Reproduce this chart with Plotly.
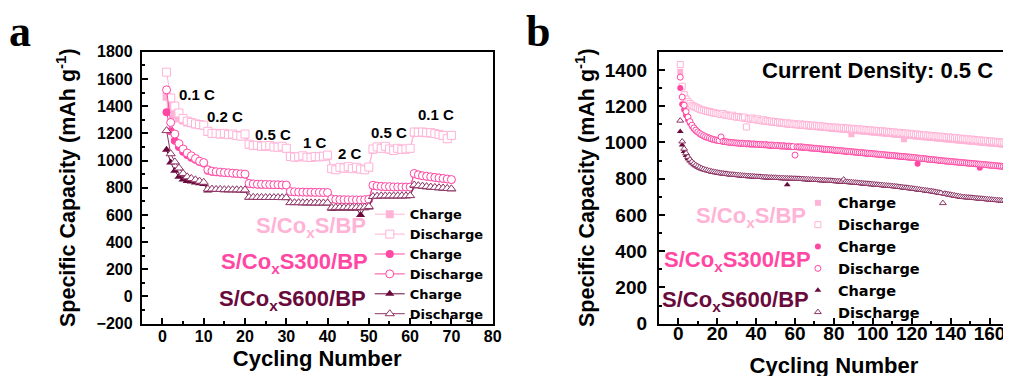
import plotly.graph_objects as go

# ---------------- data: panel a (rate capability) ----------------
cycles_a = list(range(1, 71))
rate_labels = ["0.1 C", "0.2 C", "0.5 C", "1 C", "2 C", "0.5 C", "0.1 C"]
rate_label_x = [8.4, 15.1, 26.9, 37.0, 45.4, 54.9, 66.2]
rate_label_y = [1487, 1324, 1192, 1129, 1052, 1206, 1338]

cs_charge_a = [1470, 1400, 1335, 1310, 1295, 1280, 1275, 1265, 1260, 1255,
               1210, 1198, 1196, 1192, 1195, 1188, 1190, 1182, 1178, 1190,
               1115, 1108, 1108, 1102, 1104, 1105, 1098, 1095, 1100, 1088,
               1028, 1022, 1025, 1030, 1022, 1020, 1026, 1025, 1028, 1035,
               938, 930, 945, 940, 950, 938, 945, 935, 930, 948,
               1080, 1095, 1088, 1100, 1082, 1072, 1086, 1080, 1082, 1086,
               1205, 1204, 1206, 1200, 1200, 1195, 1188, 1180, 1158, 1180]
cs_discharge_a = [1650, 1460, 1400, 1350, 1310, 1290, 1280, 1270, 1265, 1260,
                  1215, 1200, 1200, 1195, 1200, 1190, 1195, 1185, 1180, 1195,
                  1120, 1110, 1112, 1105, 1108, 1110, 1100, 1098, 1105, 1090,
                  1030, 1025, 1028, 1035, 1025, 1022, 1030, 1028, 1032, 1040,
                  940, 932, 950, 945, 955, 940, 950, 938, 932, 952,
                  1085, 1100, 1090, 1105, 1085, 1075, 1090, 1082, 1085, 1090,
                  1210, 1208, 1210, 1205, 1205, 1198, 1192, 1185, 1160, 1185]
s300_charge_a = [1355, 1215, 1145, 1100, 1065, 1040, 1020, 1005, 990, 978,
                 925, 918, 914, 912, 910, 908, 905, 903, 900, 898,
                 828, 825, 823, 822, 822, 821, 820, 820, 818, 818,
                 770, 768, 766, 766, 765, 765, 764, 764, 763, 763,
                 715, 712, 710, 710, 709, 709, 708, 708, 710, 712,
                 815, 810, 808, 806, 806, 804, 804, 803, 803, 803,
                 900, 892, 886, 882, 878, 874, 870, 866, 862, 858]
s300_discharge_a = [1520, 1280, 1195, 1125, 1085, 1055, 1035, 1015, 995, 985,
                    932, 922, 918, 915, 912, 910, 907, 905, 902, 900,
                    832, 828, 826, 825, 824, 823, 822, 822, 820, 820,
                    772, 770, 768, 768, 767, 767, 766, 766, 765, 765,
                    718, 714, 712, 712, 711, 711, 710, 710, 712, 715,
                    818, 812, 810, 808, 808, 806, 806, 805, 805, 805,
                    905, 895, 888, 884, 880, 876, 872, 868, 864, 860]
s600_charge_a = [1080, 985, 925, 880, 860, 850, 845, 838, 832, 828,
                 780, 785, 783, 783, 782, 782, 781, 781, 780, 780,
                 727, 727, 726, 726, 725, 725, 725, 725, 724, 724,
                 687, 687, 687, 686, 686, 686, 685, 685, 685, 685,
                 645, 647, 647, 647, 647, 647, 647, 600, 649, 655,
                 732, 735, 737, 737, 737, 737, 737, 737, 737, 739,
                 815, 811, 808, 804, 801, 798, 796, 794, 791, 789]
s600_discharge_a = [1220, 1050, 990, 945, 905, 880, 868, 858, 848, 840,
                    790, 790, 788, 788, 786, 786, 785, 785, 784, 784,
                    730, 730, 729, 729, 728, 728, 728, 728, 727, 727,
                    690, 690, 690, 689, 689, 689, 688, 688, 688, 688,
                    652, 655, 655, 655, 655, 655, 655, 655, 657, 662,
                    735, 738, 740, 740, 740, 740, 740, 740, 740, 742,
                    820, 815, 812, 808, 805, 802, 800, 798, 795, 792]

# ---------------- data: panel b (long cycling at 0.5 C) ----------------
cycles_b = list(range(1, 171))
cs_discharge_b = [1430, 1310, 1265, 1240, 1225, 1215, 1205, 1200, 1195, 1190,
                  1185, 1180, 1178, 1175, 1172, 1170, 1168, 1165, 1163, 1160,
                  1158, 1155, 1160, 1150, 1152, 1148, 1145, 1150, 1142, 1140,
                  1143, 1138, 1135, 1140, 1085, 1132, 1130, 1135, 1128, 1125,
                  1130, 1122, 1120, 1125, 1118, 1120, 1115, 1118, 1112, 1115,
                  1110, 1113, 1108, 1110, 1105, 1108, 1103, 1106, 1100, 1103,
                  1100, 1098, 1102, 1096, 1100, 1094, 1098, 1092, 1096, 1090,
                  1094, 1090, 1092, 1088, 1090, 1085, 1088, 1083, 1086, 1082,
                  1085, 1080, 1083, 1078, 1082, 1076, 1080, 1075, 1078, 1073,
                  1076, 1072, 1075, 1070, 1073, 1068, 1071, 1066, 1069, 1065,
                  1067, 1063, 1066, 1061, 1064, 1059, 1062, 1057, 1060, 1055,
                  1058, 1053, 1056, 1051, 1054, 1049, 1052, 1047, 1050, 1045,
                  1048, 1043, 1046, 1041, 1044, 1039, 1042, 1037, 1040, 1035,
                  1038, 1033, 1036, 1031, 1034, 1029, 1032, 1027, 1030, 1025,
                  1028, 1023, 1026, 1021, 1024, 1019, 1022, 1017, 1020, 1015,
                  1018, 1013, 1016, 1011, 1014, 1009, 1012, 1007, 1010, 1005,
                  1008, 1003, 1006, 1001, 1004, 999, 1002, 997, 1000, 995]
cs_charge_b = [1390, 1305, 1255, 1232, 1218, 1208, 1200, 1194, 1190, 1185,
               1180, 1176, 1173, 1170, 1168, 1165, 1163, 1160, 1158, 1157,
               1155, 1153, 1152, 1149, 1148, 1146, 1144, 1143, 1140, 1138,
               1137, 1135, 1133, 1131, 1130, 1128, 1127, 1125, 1124, 1122,
               1121, 1119, 1117, 1116, 1114, 1113, 1111, 1110, 1108, 1107,
               1105, 1104, 1103, 1101, 1100, 1099, 1098, 1097, 1096, 1095,
               1094, 1093, 1092, 1091, 1090, 1089, 1088, 1087, 1086, 1085,
               1084, 1083, 1082, 1081, 1080, 1079, 1078, 1077, 1076, 1075,
               1074, 1073, 1072, 1071, 1070, 1069, 1068, 1067, 1045, 1065,
               1064, 1063, 1062, 1061, 1060, 1059, 1058, 1057, 1056, 1055,
               1054, 1053, 1052, 1051, 1050, 1049, 1048, 1047, 1046, 1045,
               1044, 1043, 1042, 1041, 1040, 1018, 1038, 1037, 1036, 1035,
               1034, 1033, 1032, 1031, 1030, 1029, 1028, 1027, 1026, 1025,
               1024, 1023, 1022, 1021, 1020, 1019, 1018, 1017, 1016, 1015,
               1014, 1013, 1012, 1011, 1010, 1009, 1008, 1007, 1006, 1005,
               1004, 1003, 1002, 1001, 1000, 999, 998, 997, 996, 995,
               994, 993, 992, 991, 990, 989, 988, 987, 986, 985]
s300_discharge_b = [1360, 1250, 1205, 1170, 1140, 1115, 1095, 1080, 1068, 1058,
                    1050, 1043, 1037, 1032, 1028, 1024, 1020, 1017, 1014, 1012,
                    1010, 1030, 1006, 1004, 1003, 1001, 1000, 999, 998, 997,
                    996, 995, 996, 994, 993, 994, 992, 991, 992, 990,
                    989, 990, 988, 987, 988, 986, 985, 986, 984, 983,
                    984, 982, 981, 982, 980, 979, 980, 978, 977, 930,
                    976, 975, 976, 974, 973, 972, 971, 970, 969, 968,
                    967, 966, 965, 964, 963, 962, 961, 960, 959, 958,
                    957, 956, 955, 954, 953, 952, 951, 950, 949, 948,
                    947, 946, 945, 944, 943, 942, 941, 940, 939, 938,
                    937, 936, 935, 934, 933, 932, 931, 930, 929, 928,
                    927, 926, 925, 924, 923, 922, 921, 920, 919, 918,
                    917, 916, 914, 913, 912, 911, 910, 908, 907, 906,
                    905, 904, 903, 901, 900, 899, 898, 897, 896, 895,
                    894, 893, 892, 891, 890, 889, 888, 887, 886, 885,
                    884, 883, 882, 881, 880, 879, 878, 877, 876, 875,
                    874, 873, 872, 871, 870, 869, 868, 867, 866, 865]
s300_charge_b = [1300, 1210, 1180, 1150, 1125, 1105, 1088, 1074, 1063, 1054,
                 1046, 1040, 1034, 1029, 1025, 1021, 1018, 1015, 1012, 1010,
                 1008, 1006, 1004, 1002, 1001, 999, 998, 997, 996, 995,
                 994, 993, 992, 991, 990, 990, 989, 988, 988, 987,
                 986, 986, 985, 984, 984, 983, 982, 982, 981, 980,
                 980, 979, 978, 978, 977, 976, 976, 975, 974, 974,
                 973, 972, 972, 971, 970, 969, 968, 967, 966, 965,
                 964, 963, 962, 961, 960, 959, 958, 957, 956, 955,
                 954, 953, 952, 951, 950, 949, 948, 947, 946, 945,
                 944, 943, 942, 941, 940, 939, 938, 937, 936, 935,
                 934, 933, 932, 931, 930, 929, 928, 927, 926, 925,
                 924, 923, 922, 921, 920, 919, 918, 917, 916, 915,
                 914, 913, 882, 911, 910, 909, 908, 906, 905, 904,
                 903, 902, 901, 899, 898, 897, 896, 895, 894, 893,
                 892, 891, 890, 889, 888, 887, 886, 885, 884, 883,
                 882, 881, 880, 879, 860, 877, 876, 875, 874, 873,
                 872, 871, 870, 869, 868, 867, 866, 865, 864, 863]
s600_discharge_b = [1120, 1005, 965, 940, 920, 905, 893, 883, 875, 868,
                    862, 857, 853, 849, 846, 843, 840, 838, 836, 834,
                    832, 830, 829, 827, 826, 824, 823, 822, 821, 820,
                    819, 818, 817, 816, 815, 814, 814, 813, 812, 811,
                    810, 810, 809, 808, 808, 807, 806, 806, 805, 805,
                    804, 804, 803, 803, 802, 802, 801, 801, 800, 800,
                    799, 799, 798, 798, 797, 797, 796, 795, 795, 794,
                    793, 793, 792, 791, 791, 790, 789, 789, 788, 787,
                    786, 786, 785, 784, 795, 783, 782, 781, 780, 779,
                    778, 777, 776, 775, 774, 773, 772, 771, 770, 769,
                    768, 767, 766, 765, 764, 763, 762, 761, 760, 759,
                    758, 757, 755, 754, 753, 751, 750, 749, 747, 746,
                    744, 743, 741, 740, 738, 737, 735, 734, 732, 731,
                    729, 727, 725, 723, 721, 665, 717, 715, 713, 711,
                    709, 707, 705, 703, 701, 699, 698, 697, 696, 695,
                    694, 693, 692, 691, 690, 689, 688, 687, 686, 685,
                    684, 683, 682, 681, 680, 679, 678, 677, 676, 675]
s600_charge_b = [1060, 985, 950, 928, 910, 897, 886, 877, 870, 863,
                 858, 853, 849, 846, 843, 840, 837, 835, 833, 831,
                 829, 827, 826, 824, 823, 821, 820, 819, 818, 817,
                 816, 815, 814, 813, 812, 811, 811, 810, 809, 808,
                 807, 807, 806, 805, 805, 804, 803, 803, 802, 802,
                 801, 801, 800, 800, 799, 767, 798, 798, 797, 797,
                 796, 796, 795, 795, 794, 794, 793, 792, 792, 791,
                 790, 790, 789, 788, 788, 787, 786, 786, 785, 784,
                 783, 783, 782, 781, 780, 780, 779, 778, 777, 776,
                 775, 774, 773, 772, 771, 770, 769, 768, 767, 766,
                 765, 764, 763, 762, 761, 760, 759, 758, 757, 756,
                 755, 754, 752, 751, 750, 748, 747, 746, 744, 743,
                 741, 740, 738, 737, 735, 734, 732, 731, 729, 728,
                 726, 724, 722, 720, 718, 716, 714, 712, 710, 708,
                 706, 704, 702, 700, 698, 697, 696, 695, 694, 693,
                 692, 691, 690, 689, 688, 687, 686, 685, 684, 683,
                 682, 681, 680, 679, 678, 677, 676, 675, 674, 673]

sample_names = ["S/Co<sub>x</sub>S/BP", "S/Co<sub>x</sub>S300/BP", "S/Co<sub>x</sub>S600/BP"]
colors = ["#FFB3D6", "#FF47A3", "#6A0A3C"]
open_line_colors = ["#FFB3D6", "#FF47A3", "#8E3566"]
symbols = ["square", "circle", "triangle-up"]

FONT = "Liberation Sans, Arial, sans-serif"
LEG_FONT = "DejaVu Sans, Liberation Sans, sans-serif"
W, H = 1011, 376


def px_x(p):
    return p / W


def px_y(p):
    return 1 - p / H


fig = go.Figure()

series_a = [(cs_charge_a, cs_discharge_a), (s300_charge_a, s300_discharge_a), (s600_charge_a, s600_discharge_a)]
series_b = [(cs_charge_b, cs_discharge_b), (s300_charge_b, s300_discharge_b), (s600_charge_b, s600_discharge_b)]

for i, (ch, dis) in enumerate(series_a):
    fig.add_trace(go.Scatter(
        x=cycles_a, y=ch, mode="lines+markers", name="Charge",
        line=dict(color=colors[i], width=1),
        marker=dict(symbol=symbols[i], size=8, color=colors[i], line=dict(width=0)),
        xaxis="x", yaxis="y", legend="legend"))
    fig.add_trace(go.Scatter(
        x=cycles_a, y=dis, mode="lines+markers", name="Discharge",
        line=dict(color=open_line_colors[i], width=1),
        marker=dict(symbol=symbols[i], size=8, color="white",
                    line=dict(width=1, color=open_line_colors[i])),
        xaxis="x", yaxis="y", legend="legend"))

for i, (ch, dis) in enumerate(series_b):
    fig.add_trace(go.Scatter(
        x=cycles_b, y=ch, mode="markers", name="Charge",
        marker=dict(symbol=symbols[i], size=6, color=colors[i], line=dict(width=0)),
        xaxis="x2", yaxis="y2", legend="legend2"))
    fig.add_trace(go.Scatter(
        x=cycles_b, y=dis, mode="markers", name="Discharge",
        marker=dict(symbol=symbols[i], size=6, color="white",
                    line=dict(width=1, color=open_line_colors[i])),
        xaxis="x2", yaxis="y2", legend="legend2"))

ydom = [px_y(324), px_y(37.7)]

axis_common = dict(showline=True, linewidth=2, linecolor="black", mirror=True,
                   showgrid=False, zeroline=False, ticks="inside", tickcolor="black",
                   tickwidth=1.5, ticklen=6)

xtitle_font = dict(family=FONT, size=22, color="black", weight="bold")
ytitle_font = dict(family=FONT, size=21.5, color="black", weight="bold")

fig.update_layout(
    width=W, height=H, margin=dict(l=0, r=0, t=0, b=0),
    paper_bgcolor="white", plot_bgcolor="white",
    xaxis=dict(domain=[px_x(135), px_x(489)], range=[-5, 80], tickmode="linear", tick0=0, dtick=10,
               minor=dict(ticks="inside", ticklen=3, dtick=5, tick0=0, tickcolor="black", tickwidth=1.5),
               tickfont=dict(family=FONT, size=16, color="black", weight="bold"),
               ticklabelstandoff=-3,
               title=dict(text="Cycling Number", font=xtitle_font, standoff=7),
               anchor="y", **axis_common),
    yaxis=dict(domain=ydom, range=[-200, 1800], tickmode="linear", tick0=-200, dtick=200,
               minor=dict(ticks="inside", ticklen=3, dtick=100, tick0=0, tickcolor="black", tickwidth=1.5),
               tickfont=dict(family=FONT, size=16, color="black", weight="bold"),
               ticklabelstandoff=4,
               title=dict(text="Specific Capacity (mAh g<sup>-1</sup>)", font=ytitle_font, standoff=15),
               anchor="x", **axis_common),
    xaxis2=dict(domain=[px_x(656.7), px_x(1010)], range=[-10, 170], tickmode="linear", tick0=0, dtick=20,
                minor=dict(ticks="inside", ticklen=3, dtick=10, tick0=0, tickcolor="black", tickwidth=1.5),
                tickfont=dict(family=FONT, size=19, color="black", weight="bold"),
                ticklabelstandoff=-8,
                title=dict(text="Cycling Number", font=xtitle_font, standoff=14),
                anchor="y2", **axis_common),
    yaxis2=dict(domain=ydom, range=[0, 1500], tickmode="linear", tick0=0, dtick=200,
                minor=dict(ticks="inside", ticklen=3, dtick=100, tick0=0, tickcolor="black", tickwidth=1.5),
                tickfont=dict(family=FONT, size=19, color="black", weight="bold"),
                ticklabelstandoff=6,
                title=dict(text="Specific Capacity (mAh g<sup>-1</sup>)", font=ytitle_font, standoff=4),
                anchor="x2", **axis_common),
    legend=dict(x=px_x(365), y=px_y(193), xanchor="left", yanchor="top",
                bgcolor="rgba(0,0,0,0)", borderwidth=0, tracegroupgap=0,
                font=dict(family=LEG_FONT, size=13, color="black", weight="bold")),
    legend2=dict(x=px_x(797), y=px_y(180), xanchor="left", yanchor="top",
                 bgcolor="rgba(0,0,0,0)", borderwidth=0, tracegroupgap=0,
                 font=dict(family=LEG_FONT, size=14.5, color="black", weight="bold")),
)

annotations = []
# panel letters
for letter, lx in (("a", 12), ("b", 535)):
    annotations.append(dict(text="<b>%s</b>" % letter, x=px_x(lx), y=px_y(28), xref="paper", yref="paper",
                            xanchor="center", yanchor="bottom", yshift=-15, showarrow=False,
                            font=dict(family="Liberation Serif, Times New Roman, serif", size=44, color="black")))
# rate labels (panel a)
for t, xv, yv in zip(rate_labels, rate_label_x, rate_label_y):
    annotations.append(dict(text=t, x=xv, y=yv, xref="x", yref="y", showarrow=False,
                            xanchor="center", yanchor="middle",
                            font=dict(family=FONT, size=15, color="black", weight="bold")))
# current density (panel b)
annotations.append(dict(text="Current Density: 0.5 C", x=px_x(877), y=px_y(57), xref="paper", yref="paper",
                        showarrow=False, xanchor="center", yanchor="middle",
                        font=dict(family=FONT, size=22, color="black", weight="bold")))
# sample labels
label_pos_a = [(363, 222), (365, 260), (363, 299)]
label_pos_b = [(807, 212), (812, 258), (810, 300)]
for i, name in enumerate(sample_names):
    for (lx, ly) in (label_pos_a[i], label_pos_b[i]):
        annotations.append(dict(text=name, x=px_x(lx), y=px_y(ly), xref="paper", yref="paper",
                                showarrow=False, xanchor="right", yanchor="middle",
                                font=dict(family=FONT, size=22, color=colors[i], weight="bold")))
fig.update_layout(annotations=annotations)

fig.write_html("out.html")
